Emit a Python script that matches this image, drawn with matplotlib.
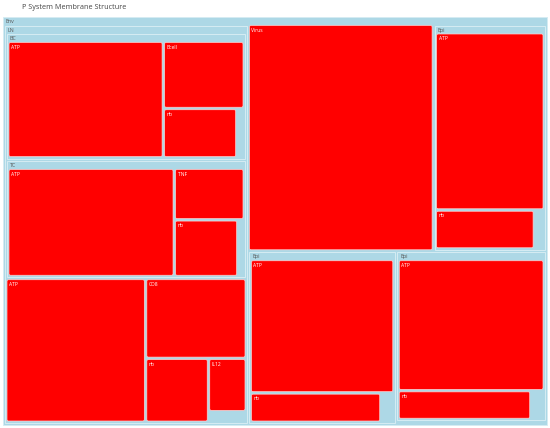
import matplotlib
matplotlib.use("Agg")
import matplotlib.pyplot as plt
from matplotlib.patches import FancyBboxPatch, Rectangle

# ---- data (plotly-style treemap, branchvalues="remainder") ----
ids = ["Env", "LN", "BC", "BC/ATP", "BC/Bcell", "BC/nb",
       "TC", "TC/ATP", "TC/TNF", "TC/nb",
       "LN/ATP", "LN/CD8", "LN/nb", "LN/IL12",
       "Virus",
       "Epi1", "Epi1/ATP", "Epi1/nb",
       "Epi2", "Epi2/ATP", "Epi2/nb",
       "Epi3", "Epi3/ATP", "Epi3/nb"]
labels = ["Env", "LN", "BC", "ATP", "Bcell", "nb",
          "TC", "ATP", "TNF", "nb",
          "ATP", "CD8", "nb", "IL12",
          "Virus",
          "Epi", "ATP", "nb",
          "Epi", "ATP", "nb",
          "Epi", "ATP", "nb"]
parents = ["", "Env", "LN", "BC", "BC", "BC",
           "LN", "TC", "TC", "TC",
           "LN", "LN", "LN", "LN",
           "Env",
           "Env", "Epi1", "Epi1",
           "Env", "Epi2", "Epi2",
           "Env", "Epi3", "Epi3"]
values = [1, 1, 1, 50, 15, 10,
          1, 50, 10, 10,
          50, 20, 10, 5,
          100,
          1, 50, 10,
          1, 50, 10,
          1, 50, 10]
title = "P System Membrane Structure"

# ---- styling / layout constants ----
W, H = 550, 428
ROOT_BOX = (3, 17, 547, 425)
PAD_T, PAD_L, PAD_R, PAD_B = 8.5, 2.0, 2.0, 2.0
GAP = 2.5
LEAF_COLOR = "#ff0000"
BRANCH_COLOR = "#add8e6"

# ---- build hierarchy ----
children = {i: [] for i in ids}
for i, p in zip(ids, parents):
    if p:
        children[p].append(i)
own = dict(zip(ids, values))
lab = dict(zip(ids, labels))
total = {}


def sum_value(n):
    total[n] = own[n] + sum(sum_value(c) for c in children[n])
    return total[n]


root = ids[0]
sum_value(root)
for n in ids:
    children[n].sort(key=lambda c: -total[c])


def squarify(node, x0, y0, x1, y1, boxes, ratio=1.0):
    nodes = children[node]
    value = total[node]
    n = len(nodes)
    i0 = i1 = 0
    while i0 < n:
        dx, dy = x1 - x0, y1 - y0
        sumv = total[nodes[i1]]
        i1 += 1
        minv = maxv = sumv
        alpha = max(dy / dx, dx / dy) / (value * ratio)
        beta = sumv * sumv * alpha
        min_ratio = max(maxv / beta, beta / minv)
        while i1 < n:
            nv = total[nodes[i1]]
            sumv += nv
            minv = min(minv, nv)
            maxv = max(maxv, nv)
            beta = sumv * sumv * alpha
            new_ratio = max(maxv / beta, beta / minv)
            if new_ratio > min_ratio:
                sumv -= nv
                break
            min_ratio = new_ratio
            i1 += 1
        row = nodes[i0:i1]
        if dx < dy:  # dice: horizontal strip at top
            yy1 = y0 + dy * sumv / value
            k = (x1 - x0) / sumv
            xx = x0
            for c in row:
                boxes[c] = [xx, y0, xx + total[c] * k, yy1]
                xx += total[c] * k
            y0 = yy1
        else:  # slice: vertical strip at left
            xx1 = x0 + dx * sumv / value
            k = (y1 - y0) / sumv
            yy = y0
            for c in row:
                boxes[c] = [x0, yy, xx1, yy + total[c] * k]
                yy += total[c] * k
            x0 = xx1
        value -= sumv
        i0 = i1


boxes = {root: list(ROOT_BOX)}


def position(node):
    if not children[node]:
        return
    x0, y0, x1, y1 = boxes[node]
    p = GAP / 2
    squarify(node, x0 + PAD_L - p, y0 + PAD_T - p, x1 - PAD_R + p, y1 - PAD_B + p, boxes)
    for c in children[node]:
        b = boxes[c]
        boxes[c] = [b[0] + p, b[1] + p, b[2] - p, b[3] - p]
        position(c)


position(root)

# ---- draw ----
fig = plt.figure(figsize=(W / 100, H / 100), dpi=100)
ax = fig.add_axes([0, 0, 1, 1])
ax.set_xlim(0, W)
ax.set_ylim(H, 0)
ax.axis("off")


def draw(node):
    x0, y0, x1, y1 = boxes[node]
    leaf = not children[node]
    if leaf:
        patch = FancyBboxPatch((x0, y0), x1 - x0, y1 - y0,
                               boxstyle="round,pad=0,rounding_size=1.5",
                               facecolor=LEAF_COLOR, edgecolor="#ffd0d0",
                               linewidth=0.5)
        ax.add_patch(patch)
        ax.text(x0 + 2, y0 + 2, lab[node], color="white", fontsize=3.6,
                family="Open Sans", va="top", ha="left")
    else:
        patch = Rectangle((x0, y0), x1 - x0, y1 - y0,
                          facecolor=BRANCH_COLOR, edgecolor="#d6ecf3",
                          linewidth=0.7)
        ax.add_patch(patch)
        ax.text(x0 + 3, y0 + PAD_T / 2 + 0.3, lab[node], color="#555555",
                fontsize=3.8, family="Open Sans", va="center", ha="left")
        for c in children[node]:
            draw(c)


draw(root)

fig.text(22 / W, 1 - 7.5 / H, title, fontsize=5.2, family="Open Sans",
         color="#444444", va="center", ha="left")

fig.savefig("out.png", dpi=100, facecolor="white")
